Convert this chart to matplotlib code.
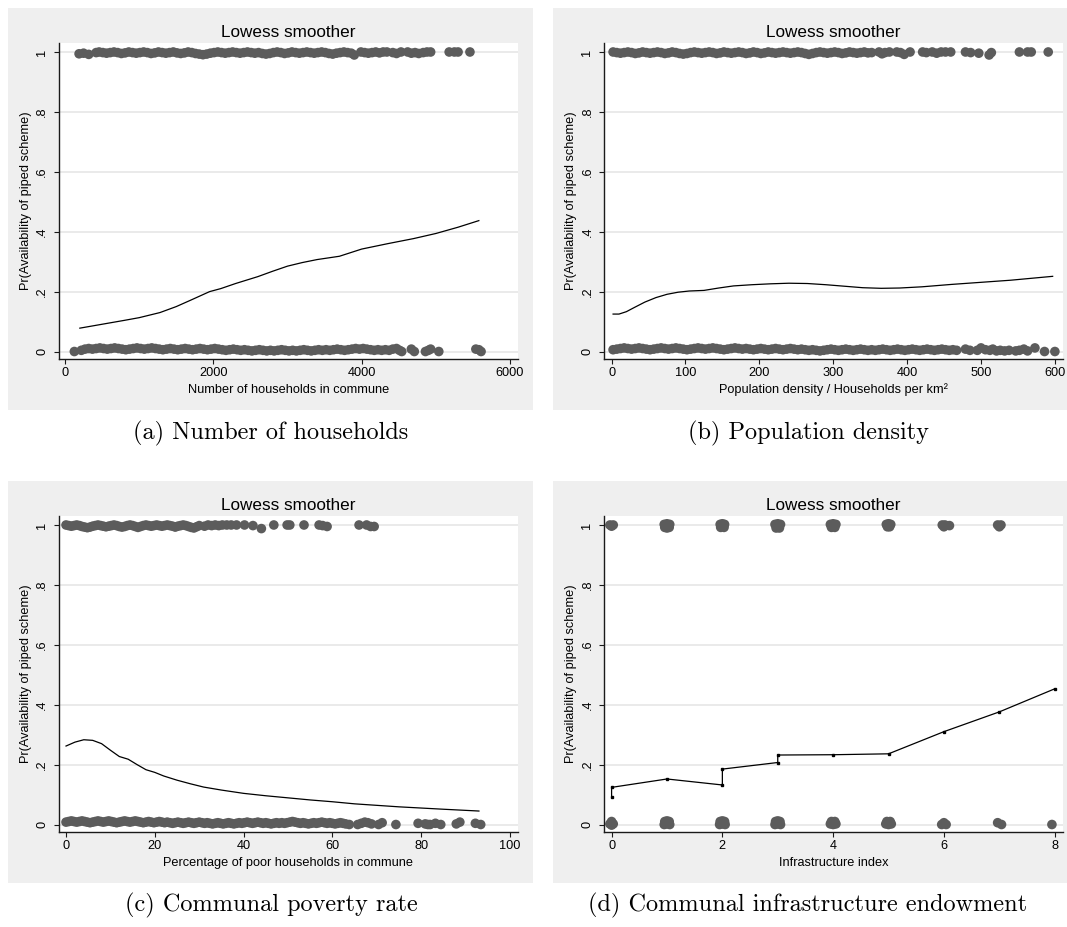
import matplotlib.pyplot as plt
from matplotlib.patches import Rectangle

plt.rcParams["font.family"] = ["Liberation Sans", "DejaVu Sans"]

FIG_W, FIG_H = 1067, 927
DOT = "#5c5c5c"
PANEL_BG = "#efefef"
GRID = "#e8e8e8"

Y_TICKS = [0, 0.2, 0.4, 0.6, 0.8, 1.0]
Y_TICK_LABELS = ["0", ".2", ".4", ".6", ".8", "1"]
Y_LABEL = "Pr(Availability of piped scheme)"

# (a) number of households in commune: (x, jittered outcome)
hh_top = [
    (190, .994), (250, .996), (320, .992), (420, .998), (460, 1.0), (510, .998), (560, .996),
    (610, .998), (660, 1.0), (710, .998), (760, .995), (810, .997), (860, 1.0), (910, .998),
    (960, .996), (1010, .998), (1060, 1.0), (1110, .998), (1160, .995), (1210, .997), (1260, 1.0),
    (1310, .998), (1360, .996), (1410, .998), (1460, 1.0), (1510, .997), (1560, .995), (1610, .997),
    (1660, 1.0), (1710, .998), (1760, .995), (1810, .993), (1860, .991), (1910, .993), (1960, .996),
    (2010, .998), (2060, 1.0), (2110, .998), (2160, .996), (2210, .998), (2260, 1.0), (2310, .998),
    (2360, .996), (2410, .998), (2460, 1.0), (2510, .998), (2560, .996), (2610, .998), (2660, .995),
    (2710, .993), (2760, .995), (2810, .998), (2860, 1.0), (2910, .998), (2960, .995), (3010, .997),
    (3060, 1.0), (3110, .998), (3160, .996), (3210, .998), (3260, 1.0), (3310, .998), (3360, .996),
    (3410, .998), (3460, 1.0), (3510, .998), (3560, .995), (3610, .993), (3660, .996), (3710, .998),
    (3760, 1.0), (3810, .998), (3860, .996), (3900, .99), (3990, 1.0), (4040, .998), (4090, .996),
    (4140, .998), (4190, 1.0), (4240, .997), (4290, 1.0), (4340, 1.0), (4420, .998), (4470, .995),
    (4530, 1.0), (4620, 1.0), (4670, .996), (4720, .998), (4770, .995), (4830, .998), (4880, 1.0),
    (4930, 1.0), (5180, 1.0), (5250, 1.0), (5300, 1.0), (5460, 1.0),
]
hh_bot = [
    (126, 0), (220, .004), (270, .008), (320, .01), (370, .008), (420, .01), (470, .012),
    (520, .01), (570, .008), (620, .01), (670, .012), (720, .01), (770, .008), (820, .006),
    (870, .008), (920, .01), (970, .012), (1020, .01), (1070, .008), (1120, .01), (1170, .012),
    (1220, .01), (1270, .008), (1320, .006), (1370, .008), (1420, .01), (1470, .008), (1520, .006),
    (1570, .008), (1620, .01), (1670, .008), (1720, .006), (1770, .008), (1820, .01), (1870, .008),
    (1920, .006), (1970, .008), (2020, .01), (2070, .008), (2120, .006), (2170, .004), (2220, .006),
    (2270, .008), (2320, .006), (2370, .004), (2420, .006), (2470, .004), (2520, .002), (2570, .004),
    (2620, .006), (2670, .004), (2720, .002), (2770, .004), (2820, .002), (2870, .004), (2920, .006),
    (2970, .004), (3020, .002), (3070, .004), (3120, .002), (3170, .004), (3220, .006), (3270, .004),
    (3320, .002), (3370, .004), (3420, .006), (3470, .004), (3520, .006), (3570, .004), (3620, .006),
    (3670, .008), (3720, .006), (3770, .004), (3820, .006), (3870, .008), (3920, .01), (3970, .008),
    (4020, .01), (4070, .008), (4120, .006), (4170, .004), (4220, .006), (4270, .004), (4320, .006),
    (4370, .004), (4420, .008), (4470, .01), (4510, .004), (4540, 0), (4670, .008), (4710, 0),
    (4860, 0), (4900, .004), (4930, .008), (5040, 0), (5540, .008), (5580, .006), (5610, 0),
]
hh_fit_x = [200, 500, 800, 1000, 1280, 1500, 1700, 1950, 2100, 2300, 2600, 2800, 3000, 3200,
            3400, 3700, 4000, 4350, 4700, 5000, 5300, 5580]
hh_fit_y = [.078, .091, .104, .113, .130, .150, .172, .200, .210, .227, .250, .268, .285, .297,
            .307, .318, .342, .360, .377, .394, .415, .437]

# (b) population density
dens_top = [
    (2, 1.0), (7, .998), (12, .996), (17, .998), (22, 1.0), (27, .998), (32, .995), (37, .997),
    (42, 1.0), (47, .998), (52, .996), (57, .998), (62, 1.0), (67, .998), (72, .995), (77, .997),
    (82, 1.0), (87, .998), (92, .995), (97, .993), (102, .995), (107, .998), (112, 1.0),
    (117, .998), (122, .996), (127, .998), (132, 1.0), (137, .998), (142, .995), (147, .997),
    (152, 1.0), (157, .998), (162, .996), (167, .998), (172, 1.0), (177, .998), (182, .995),
    (187, .997), (192, 1.0), (197, .998), (202, .995), (207, .997), (212, 1.0), (217, .998),
    (222, .996), (227, .998), (232, 1.0), (237, .998), (242, .996), (247, .998), (252, 1.0),
    (257, .998), (262, .995), (267, .992), (272, .995), (277, .998), (282, 1.0), (287, .998),
    (292, .996), (297, .998), (302, 1.0), (307, .998), (312, .995), (317, .997), (322, 1.0),
    (327, .998), (332, .996), (337, .998), (342, 1.0), (347, .997), (352, .998),
    (362, 1.0), (366, .994), (370, .998), (376, 1.0), (386, 1.0), (391, .998), (396, .992),
    (404, 1.0), (421, 1.0), (426, .998), (434, 1.0), (440, .996), (446, 1.0), (452, 1.0),
    (459, 1.0), (479, 1.0), (486, .998), (497, .996), (511, .99), (514, .998), (552, 1.0),
    (563, 1.0), (568, 1.0), (591, 1.0),
]
dens_bot = [
    (2, .006), (7, .008), (12, .01), (17, .012), (22, .01), (27, .008), (32, .01), (37, .012),
    (42, .01), (47, .008), (52, .006), (57, .008), (62, .01), (67, .012), (72, .01), (77, .008),
    (82, .01), (87, .012), (92, .01), (97, .008), (102, .006), (107, .008), (112, .01),
    (117, .012), (122, .01), (127, .008), (132, .01), (137, .012), (142, .01), (147, .008),
    (152, .006), (157, .008), (162, .01), (167, .012), (172, .01), (177, .008), (182, .01),
    (187, .008), (192, .006), (197, .008), (202, .01), (207, .008), (212, .006), (217, .008),
    (222, .01), (227, .008), (232, .006), (237, .008), (242, .01), (247, .008), (252, .006),
    (257, .008), (262, .006), (267, .004), (272, .006), (277, .004), (282, .002), (287, .004),
    (292, .006), (297, .008), (302, .006), (307, .004), (312, .006), (317, .008), (322, .006),
    (327, .004), (332, .006), (337, .008), (342, .006), (347, .004), (352, .006), (357, .004),
    (362, .006), (367, .008), (372, .006), (377, .004), (382, .006), (387, .008), (392, .006),
    (397, .004), (402, .006), (407, .008), (412, .006), (417, .004), (422, .006), (427, .008),
    (432, .006), (437, .004), (442, .006), (447, .008), (452, .006), (457, .004), (462, .006),
    (467, .004), (479, .008), (485, .004), (495, .004), (500, .012), (506, .006), (512, .004),
    (516, .008), (521, .002), (526, .004), (532, .002), (538, .004), (547, .002), (552, .004),
    (558, .008), (563, .002), (573, .012), (586, 0), (600, 0),
]
dens_fit_x = [2, 10, 20, 30, 45, 60, 75, 90, 105, 125, 145, 165, 190, 215, 240, 265, 290, 315,
              340, 365, 390, 420, 460, 500, 540, 597]
dens_fit_y = [.125, .125, .133, .146, .165, .180, .191, .198, .202, .204, .212, .219, .223, .226,
              .228, .227, .223, .218, .213, .211, .212, .216, .224, .231, .238, .251]

# (c) communal poverty rate
pov_top = [
    (0, 1.0), (0.6, .998), (1.2, .996), (1.8, .998), (2.4, 1.0), (3.0, .998), (3.6, .995),
    (4.2, .993), (4.8, .991), (5.4, .993), (6.0, .996), (6.6, .998), (7.2, 1.0), (7.8, .998),
    (8.4, .996), (9.0, .994), (9.6, .996), (10.2, .998), (10.8, 1.0), (11.4, .998), (12.0, .995),
    (12.6, .993), (13.2, .995), (13.8, .998), (14.4, 1.0), (15.0, .998), (15.6, .995),
    (16.2, .992), (16.8, .995), (17.4, .998), (18.0, 1.0), (18.6, .998), (19.2, .996),
    (19.8, .998), (20.4, 1.0), (21.0, .998), (21.6, .996), (22.2, .998), (22.8, 1.0),
    (23.4, .998), (24.0, .996), (24.6, .993), (25.2, .996), (25.8, .998), (26.4, 1.0),
    (27.0, .998), (27.6, .995), (28.2, .992), (28.8, .99), (29.4, .994), (30, .998),
    (31.2, .996), (32, 1.0), (32.8, .998), (33.6, 1.0), (34.4, .998), (35.2, 1.0), (36.2, 1.0),
    (37.2, 1.0), (38.4, 1.0), (40.2, 1.0), (42.1, .998), (44, .988), (46.8, 1.0), (49.8, 1.0),
    (50.4, 1.0), (53.6, 1.0), (57, 1.0), (57.8, .998), (58.8, .995), (66, 1.0), (67.7, 1.0),
    (68.6, .995), (69.4, .995),
]
pov_bot = [
    (0, .008), (0.6, .01), (1.2, .012), (1.8, .01), (2.4, .008), (3.0, .01), (3.6, .012),
    (4.2, .01), (4.8, .008), (5.4, .006), (6.0, .008), (6.6, .01), (7.2, .012), (7.8, .01),
    (8.4, .008), (9.0, .01), (9.6, .012), (10.2, .01), (10.8, .008), (11.4, .006), (12.0, .008),
    (12.6, .01), (13.2, .012), (13.8, .01), (14.4, .008), (15.0, .01), (15.6, .012), (16.2, .01),
    (16.8, .008), (17.4, .006), (18.0, .008), (18.6, .01), (19.2, .008), (19.8, .006),
    (20.4, .008), (21.0, .01), (21.6, .008), (22.2, .006), (22.8, .008), (23.4, .006),
    (24.0, .004), (24.6, .006), (25.2, .008), (25.8, .006), (26.4, .004), (27.0, .006),
    (27.6, .008), (28.2, .006), (28.8, .004), (29.4, .006), (30.0, .008), (30.6, .006),
    (31.2, .004), (31.8, .006), (32.4, .004), (33.0, .002), (33.6, .004), (34.2, .006),
    (34.8, .004), (35.4, .002), (36.0, .004), (36.6, .006), (37.2, .004), (37.8, .002),
    (38.4, .004), (39.0, .006), (39.6, .004), (40.2, .006), (40.8, .008), (41.4, .006),
    (42.0, .004), (42.6, .006), (43.2, .008), (43.8, .006), (44.4, .004), (45.0, .006),
    (45.6, .004), (46.2, .002), (46.8, .004), (47.4, .006), (48.0, .004), (48.6, .006),
    (49.2, .004), (49.8, .006), (50.4, .008), (51.0, .01), (51.6, .008), (52.2, .006),
    (52.8, .004), (53.4, .006), (54.0, .004), (54.6, .002), (55.2, .004), (55.8, .006),
    (56.4, .004), (57.0, .006), (57.6, .008), (58.2, .006), (58.8, .004), (59.4, .006),
    (60.0, .004), (60.6, .002), (61.2, .004), (61.8, .006), (62.4, .004), (63.0, .002),
    (63.8, 0), (65.7, 0), (66.5, .004), (67.3, .008), (68, .006), (68.8, .002), (70.4, 0),
    (71.2, .006), (74.3, 0), (79.3, .004), (80.9, .002), (81.5, 0), (82, 0), (83.2, .004),
    (84.4, 0), (87.9, .002), (88.7, .008), (92.2, .004), (93.4, 0),
]
pov_fit_x = [0, 2, 4, 6, 8, 10, 12, 14, 16, 18, 20, 22, 25, 28, 31, 35, 40, 45, 50, 55, 60, 65,
             70, 75, 80, 85, 93]
pov_fit_y = [.262, .275, .283, .281, .270, .248, .227, .218, .200, .183, .174, .162, .148, .136,
             .125, .115, .104, .096, .089, .082, .076, .069, .064, .059, .055, .051, .045]

# (d) infrastructure index
infra_top = [
    (-0.03, 1.0), (0.03, 1.0), (0.0, .996),
    (0.95, 1.002), (1.0, 1.004), (1.05, 1.002), (0.96, .992), (1.04, .992), (1.0, .99),
    (1.96, 1.002), (2.0, 1.004), (2.04, 1.002), (1.97, .992), (2.03, .992),
    (2.95, 1.002), (3.0, 1.004), (3.05, 1.002), (2.97, .99), (3.03, .99),
    (3.95, 1.002), (4.0, 1.004), (4.05, 1.002), (3.97, .992), (4.03, .992),
    (4.96, 1.002), (5.0, 1.004), (5.04, 1.002), (4.98, .994), (5.02, .994),
    (5.97, 1.0), (6.02, 1.0), (6.0, .994), (6.1, .998),
    (6.97, 1.0), (7.03, 1.0), (7.0, .994),
]
infra_bot = [
    (-0.03, .002), (0.03, .002), (0.0, .01), (0.0, -.002),
    (0.95, 0), (1.0, .002), (1.05, 0), (0.96, .01), (1.04, .01), (1.0, .012),
    (1.95, 0), (2.0, .002), (2.05, 0), (1.96, .01), (2.04, .01), (2.0, .012),
    (2.95, 0), (3.0, .002), (3.05, 0), (2.96, .01), (3.04, .01), (3.0, .012),
    (3.95, .002), (4.0, 0), (4.05, .002), (3.97, .01), (4.03, .01),
    (4.95, .002), (5.0, 0), (5.05, .002), (4.97, .01), (5.03, .01),
    (5.96, 0), (6.04, 0), (6.0, .006),
    (6.97, .006), (7.04, 0),
    (7.95, 0),
]
infra_fit_x = [0, 0, 1, 2, 2, 3, 3, 4, 5, 6, 7, 8]
infra_fit_y = [.092, .124, .152, .132, .185, .207, .232, .233, .236, .310, .376, .453]


def fig_box(left, top, right, bottom):
    # pixel box -> figure fraction [x, y, w, h]
    return [left / FIG_W, 1 - bottom / FIG_H, (right - left) / FIG_W, (bottom - top) / FIG_H]


def draw_panel(fig, bg, box, xlim, xticks, xlabel, top, bot, fit_x, fit_y, caption, cap_pos,
               nodes=False):
    x0, y0, w, h = fig_box(*bg)
    fig.add_artist(Rectangle((x0, y0), w, h, transform=fig.transFigure,
                             facecolor=PANEL_BG, edgecolor="none", zorder=-1))

    ax = fig.add_axes(fig_box(*box))
    ax.set_facecolor("white")
    for side in ("top", "right"):
        ax.spines[side].set_visible(False)
    for side in ("left", "bottom"):
        ax.spines[side].set_color("#1a1a1a")
        ax.spines[side].set_linewidth(1.0)

    ax.grid(axis="y", color=GRID, linewidth=1.3)
    ax.set_axisbelow(True)

    pts = top + bot
    ax.scatter([p[0] for p in pts], [p[1] for p in pts], s=48, color=DOT,
               edgecolors="none", zorder=2)
    ax.plot(fit_x, fit_y, color="black", linewidth=0.9, zorder=3,
            marker="s" if nodes else None, markersize=1.8)

    ax.set_xlim(*xlim)
    ax.set_ylim(-0.025, 1.03)
    ax.set_xticks(xticks)
    ax.set_xticklabels([str(t) for t in xticks])
    ax.set_yticks(Y_TICKS)
    ax.set_yticklabels(Y_TICK_LABELS, rotation=90, va="center")
    ax.tick_params(axis="both", length=3.6, width=0.8, color="#1a1a1a", labelsize=9.2)
    ax.tick_params(axis="x", pad=2.5)
    ax.tick_params(axis="y", pad=4)

    ax.set_xlabel(xlabel, fontsize=9.2, labelpad=3)
    ax.set_ylabel(Y_LABEL, fontsize=9.2, labelpad=3)
    ax.set_title("Lowess smoother", fontsize=12.3, pad=4.5)

    fig.text(cap_pos[0] / FIG_W, 1 - cap_pos[1] / FIG_H, caption, family="cmr10",
             fontsize=17.5, ha="center", va="center")
    return ax


fig = plt.figure(figsize=(FIG_W / 100, FIG_H / 100), dpi=100)

draw_panel(fig, (8, 8, 533, 410), (58.7, 43, 518, 359), (-85, 6108), [0, 2000, 4000, 6000],
           "Number of households in commune", hh_top, hh_bot, hh_fit_x, hh_fit_y,
           "(a) Number of households", (271, 433))
draw_panel(fig, (553, 8, 1067, 410), (604, 43, 1063, 359), (-10.3, 611),
           [0, 100, 200, 300, 400, 500, 600],
           "Population density / Households per km²", dens_top, dens_bot, dens_fit_x,
           dens_fit_y, "(b) Population density", (808, 433))
draw_panel(fig, (8, 481, 533, 883), (58.7, 516, 518, 832), (-1.65, 101.8),
           [0, 20, 40, 60, 80, 100],
           "Percentage of poor households in commune", pov_top, pov_bot, pov_fit_x, pov_fit_y,
           "(c) Communal poverty rate", (271, 905))
draw_panel(fig, (553, 481, 1067, 883), (604, 516, 1063, 832), (-0.137, 8.15),
           [0, 2, 4, 6, 8],
           "Infrastructure index", infra_top, infra_bot, infra_fit_x, infra_fit_y,
           "(d) Communal infrastructure endowment", (808, 905), nodes=True)

fig.savefig("out.png", dpi=100, facecolor="white")
